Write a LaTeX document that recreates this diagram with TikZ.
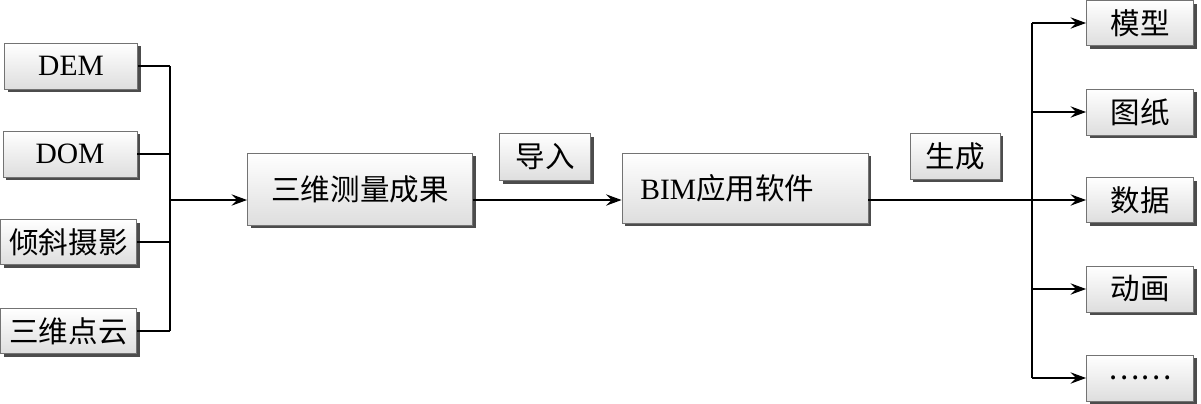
\documentclass[tikz,border=0pt]{standalone}
\usepackage{fontspec}
\setmainfont{Liberation Serif}
\newfontfamily\cjk{Noto Sans CJK SC}
\usetikzlibrary{arrows.meta,shadows}
\begin{document}
\begin{tikzpicture}[x=0.025cm,y=-0.025cm,
  box/.style={draw=black!55,line width=0.6pt,top color=white,bottom color=black!13,
    drop shadow={shadow xshift=2.2pt,shadow yshift=-2.2pt,fill=black!70,opacity=1},
    inner sep=0pt,font=\fontsize{21}{24}\selectfont},
  conn/.style={line width=1.3pt},
  arr/.style={line width=1.3pt,-{Stealth[length=11pt,width=8pt,inset=4pt]}}]
\useasboundingbox (0,0) rectangle (1201,403);
% left boxes
\node[box,minimum width=133*0.025cm,minimum height=46*0.025cm] (dem) at (71,66) {DEM};
\node[box,minimum width=134*0.025cm,minimum height=46*0.025cm] (dom) at (70,154) {DOM};
\node[box,minimum width=136*0.025cm,minimum height=45*0.025cm] (qx) at (68.5,242) {\cjk 倾斜摄影};
\node[box,minimum width=136*0.025cm,minimum height=45*0.025cm] (dy) at (68.5,331) {\cjk 三维点云};
% middle
\node[box,minimum width=225*0.025cm,minimum height=72*0.025cm] (sw) at (360,189) {\cjk 三维测量成果};
\node[box,minimum width=91*0.025cm,minimum height=47*0.025cm] (dr) at (545,157) {\cjk 导入};
\node[box,minimum width=246*0.025cm,minimum height=70*0.025cm,text width=226*0.025cm,align=left] (bim) at (745,188) {\hspace*{6pt}BIM{\cjk 应用软件}};
\node[box,minimum width=90*0.025cm,minimum height=46*0.025cm] (sc) at (955,156) {\cjk 生成};
% right boxes
\node[box,minimum width=107*0.025cm,minimum height=45*0.025cm] (mx) at (1140,23) {\cjk 模型};
\node[box,minimum width=107*0.025cm,minimum height=46*0.025cm] (tz) at (1140,112) {\cjk 图纸};
\node[box,minimum width=107*0.025cm,minimum height=45*0.025cm] (sj) at (1140,200) {\cjk 数据};
\node[box,minimum width=107*0.025cm,minimum height=46*0.025cm] (dh) at (1140,289) {\cjk 动画};
\node[box,minimum width=107*0.025cm,minimum height=46*0.025cm] (dd) at (1140,378) {\cjk ……};
% junctions
\coordinate (jL) at (170,200);
\coordinate (jR) at (1032,200);
% left connectors
\foreach \n in {dem,dom,qx,dy}{\draw[conn] (\n.east) -- (\n.east -| jL);}
\draw[conn] (jL |- dem.east) -- (jL |- dy.east);
\draw[arr] (jL) -- (jL -| sw.west);
\draw[arr] (sw.east |- jL) -- (jL -| bim.west);
\draw[conn] (bim.east |- jR) -- (jR);
\draw[conn] (jR |- mx.west) -- (jR |- dd.west);
\foreach \n in {mx,tz,sj,dh,dd}{\draw[arr] (jR |- \n.west) -- (\n.west);}
\end{tikzpicture}
\end{document}
